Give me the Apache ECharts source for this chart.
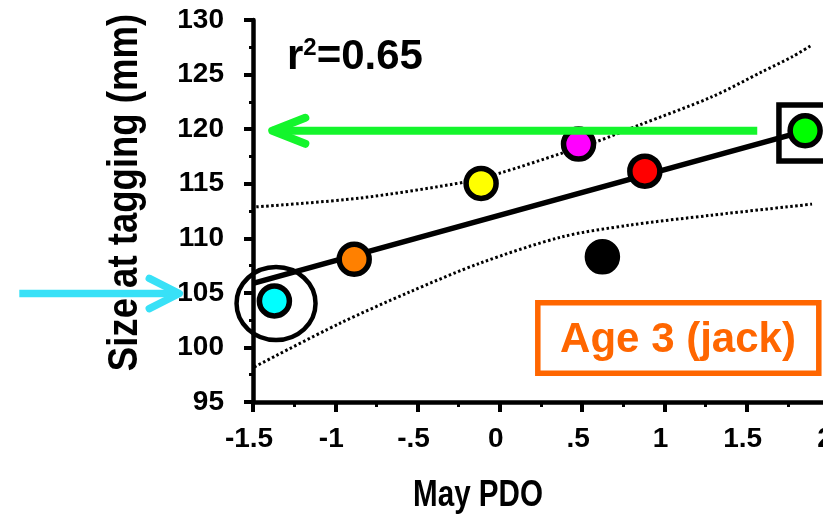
<!DOCTYPE html>
<html><head><meta charset="utf-8">
<script src="https://cdn.jsdelivr.net/npm/echarts@6/dist/echarts.min.js"></script>
<style>html,body{margin:0;padding:0;background:#fff}#c{width:823px;height:520px}</style>
</head><body><div id="c"></div>
<script>
// ---- data ----
const pdo      = [-1.37, -0.885, -0.114, 0.478, 0.881, 0.623, 1.855];
const sizeMM   = [104.26, 108.08, 115.03, 118.63, 116.15, 108.30, 119.85];
const dotColors= ['#00ffff', '#ff8000', '#ffff00', '#ff00ff', '#ff0000', '#000000', '#00ff00'];
const fitX = [-1.5, 1.855];
const fitY = [105.87, 119.85];
const upX = [-1.48, -0.854, -0.205, 0.0, 0.378, 0.585, 0.846, 1.29, 1.594, 1.776, 1.897];
const upY = [112.88, 113.68, 115.17, 115.97, 117.80, 118.84, 120.37, 122.97, 125.26, 126.63, 127.71];
const loX = [-1.492, -0.975, -0.551, -0.126, 0.378, 0.786, 1.29, 1.897];
const loY = [98.21, 102.19, 105.06, 107.69, 110.13, 111.20, 112.12, 113.13];
const xTickLabels = {'-1.5':'-1.5','-1':'-1','-0.5':'-.5','0':'0','0.5':'.5','1':'1','1.5':'1.5','2':'2'};
const boxText = 'Age 3 (jack)';
const xTitle = 'May PDO';
const yTitle = 'Size at tagging (mm)';
// annotation anchors (data coords)
const greenArrow = {from:[1.564, 119.85], tip:[-1.383, 119.85], armX:-1.182, armY:[121.04, 118.66]};
const cyanArrow  = {from:[-2.92, 104.94], tip:[-1.948, 104.94], armX:-2.13, armY:[106.32, 103.56]};
const circleAnchor = [-1.36, 104.02];
const squareAnchor = [1.866, 119.65];

const FONT = '"Liberation Sans", Arial, sans-serif';
const chart = echarts.init(document.getElementById('c'), null, {renderer:'canvas'});

const pts = pdo.map((x,i)=>({value:[x, sizeMM[i]], itemStyle:{color:dotColors[i]}}));
const zip = (a,b)=>a.map((v,i)=>[v,b[i]]);

chart.setOption({
  animation:false,
  backgroundColor:'#ffffff',
  grid:{left:253, right:-6, top:20, bottom:118, containLabel:false, outerBoundsMode:'none'},
  xAxis:{
    type:'value', min:-1.5, max:2, interval:0.5,
    axisLine:{show:true, onZero:false, lineStyle:{color:'#000', width:4.5}},
    axisTick:{show:true, length:10, lineStyle:{color:'#000', width:4}},
    minorTick:{show:true, splitNumber:2, length:5, lineStyle:{color:'#000', width:3}},
    splitLine:{show:false},
    axisLabel:{color:'#000', fontFamily:FONT, fontWeight:'bold', fontSize:28, margin:23,
      padding:[0,8,0,0], showMaxLabel:true, hideOverlap:false,
      formatter:v=>xTickLabels[String(v)] ?? String(v)}
  },
  yAxis:{
    type:'value', min:95, max:130, interval:5,
    axisLine:{show:true, onZero:false, lineStyle:{color:'#000', width:4.5}},
    axisTick:{show:true, length:9, lineStyle:{color:'#000', width:4}},
    minorTick:{show:true, splitNumber:2, length:4, lineStyle:{color:'#000', width:3}},
    splitLine:{show:false},
    axisLabel:{color:'#000', fontFamily:FONT, fontWeight:'bold', fontSize:28, margin:29}
  },
  series:[
    {type:'line', data:zip(upX,upY), symbol:'none', smooth:0.3, lineStyle:{color:'#000', width:3, type:[2.5,2.5]}, z:2},
    {type:'line', data:zip(loX,loY), symbol:'none', smooth:0.3, lineStyle:{color:'#000', width:3, type:[2.5,2.5]}, z:2},
    {type:'line', data:zip(fitX,fitY), symbol:'none', lineStyle:{color:'#000', width:5.5}, z:3},
    {type:'scatter', data:pts, symbolSize:30, itemStyle:{borderColor:'#000', borderWidth:5.5, opacity:1}, z:5}
  ]
});

const P = p => chart.convertToPixel({gridIndex:0}, p);
function arrow(a, color, w){
  const f = P(a.from), t = P(a.tip), u = P([a.armX, a.armY[0]]), d = P([a.armX, a.armY[1]]);
  const st = {stroke:color, lineWidth:w, lineCap:'round', lineJoin:'round', fill:null};
  return [
    {type:'polyline', shape:{points:[f,t]}, style:Object.assign({}, st, {lineCap:'butt'}), z:10},
    {type:'polyline', shape:{points:[u,t,d]}, style:st, z:10}
  ];
}
const c = P(circleAnchor), s = P(squareAnchor);
const graphics = [].concat(
  arrow(greenArrow, '#14f52c', 8),
  arrow(cyanArrow, '#38e1f7', 7.5),
  [
    {type:'ellipse', shape:{cx:c[0], cy:c[1], rx:39.5, ry:36.5}, style:{stroke:'#000', lineWidth:4.5, fill:null}, z:9},
    {type:'rect', shape:{x:s[0]-28, y:s[1]-28, width:56, height:56}, style:{stroke:'#000', lineWidth:5.5, fill:null}, z:9},
    {type:'rect', shape:{x:537.8, y:302.8, width:281, height:70.4}, style:{stroke:'#ff6600', lineWidth:5.5, fill:'#fff'}, z:9},
    {type:'text', x:678, y:340, z:11, style:{text:boxText, fill:'#ff6600', font:'bold 42px '+FONT, textAlign:'center', textVerticalAlign:'middle'}},
    {type:'text', x:287, y:57, z:11, style:{text:'{a|r}{s|2}{a|=0.65}', textVerticalAlign:'middle', textAlign:'left',
      rich:{a:{fontFamily:FONT, fontWeight:'bold', fontSize:42, fill:'#000', verticalAlign:'bottom'},
            s:{fontFamily:FONT, fontWeight:'bold', fontSize:24, fill:'#000', verticalAlign:'top'}}}},
    {type:'text', x:478, y:496, scaleX:0.8, z:11, style:{text:xTitle, fill:'#000', font:'bold 37px '+FONT, textAlign:'center', textVerticalAlign:'middle'}},
    {type:'text', x:125, y:192.5, rotation:Math.PI/2, scaleX:0.87, z:11, style:{text:yTitle, fill:'#000', font:'bold 42px '+FONT, textAlign:'center', textVerticalAlign:'middle'}}
  ]
);
chart.setOption({graphic:graphics});
</script>
</body></html>
